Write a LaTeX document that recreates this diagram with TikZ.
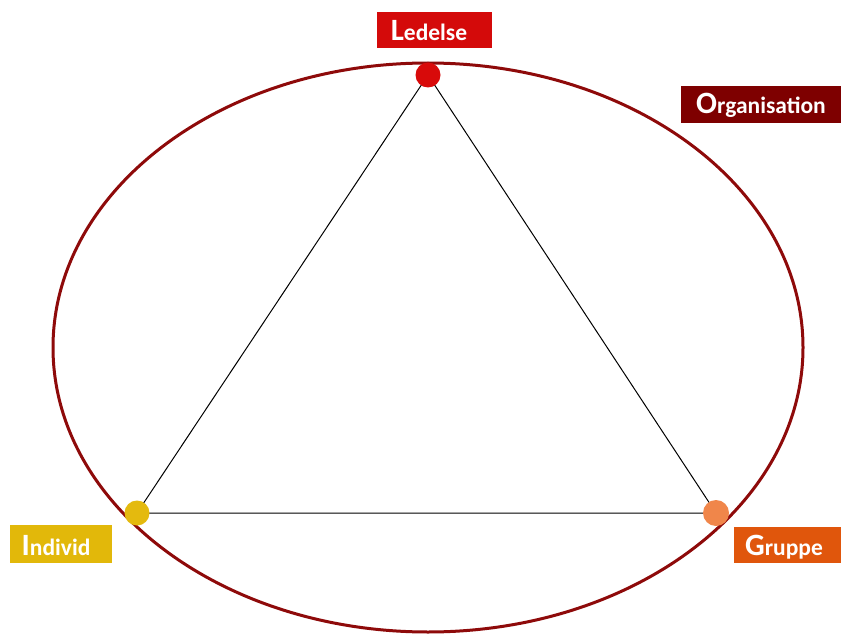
\documentclass[tikz,border=0pt]{standalone}
\usepackage{fontspec}
\setmainfont{Carlito}
\definecolor{ellred}{HTML}{8E0A0A}
\definecolor{ledred}{HTML}{D40A0A}
\definecolor{orgred}{HTML}{7E0000}
\definecolor{indgold}{HTML}{E2B80A}
\definecolor{grporange}{HTML}{E0560C}
\definecolor{dotred}{HTML}{D80A0A}
\definecolor{dotgold}{HTML}{E4BA0E}
\definecolor{dotorange}{HTML}{F0864A}
\newcommand{\lbl}[2]{{\fontsize{31}{31}\selectfont\bfseries #1}{\fontsize{23.5}{23.5}\selectfont\bfseries #2}}
\begin{document}
\begin{tikzpicture}[x=1pt,y=-1pt,
  labelbox/.style={text=white, inner sep=0pt, anchor=center},
  dotnode/.style={circle, inner sep=0pt, minimum size=25pt}]
\useasboundingbox (0,0) rectangle (841,634);
\fill[white] (0,0) rectangle (841,634);
\draw[ellred, line width=3pt] (428,347.5) ellipse [x radius=375, y radius=284.5];
\coordinate (top) at (428,75);
\coordinate (left) at (137,513);
\coordinate (right) at (716,513);
\draw[black, line width=1pt] (top) -- (left) -- (right) -- cycle;
\node[dotnode, fill=dotred] (dtop) at (top) {};
\node[dotnode, fill=dotgold] (dleft) at (left) {};
\node[dotnode, fill=dotorange, minimum size=26pt] (dright) at (right) {};
% label boxes
\fill[ledred] (377,12) rectangle (492,48);
\node[labelbox] (led) at (429,31) {\lbl{L}{edelse}};
\fill[orgred] (681,86) rectangle (841,123);
\node[labelbox] (org) at (761,105) {\lbl{O}{rganisation}};
\fill[indgold] (10,525) rectangle (112,563);
\node[labelbox] (ind) at (56,546) {\lbl{I}{ndivid}};
\fill[grporange] (734,527) rectangle (841,563);
\node[labelbox] (grp) at (784,547) {\lbl{G}{ruppe}};
\end{tikzpicture}
\end{document}
